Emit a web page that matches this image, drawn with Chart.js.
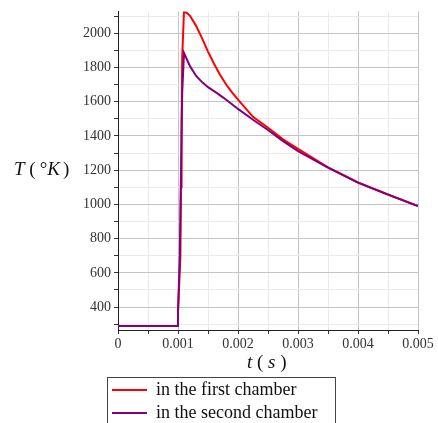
<!DOCTYPE html>
<html>
<head>
<meta charset="utf-8">
<script src="https://cdn.jsdelivr.net/npm/chart.js@4/dist/chart.umd.min.js"></script>
<style>
  body { margin: 0; background: #fff; }
  #wrap { position: relative; width: 438px; height: 423px; overflow: hidden; font-family: "Liberation Serif", "DejaVu Serif", serif; }
  #chart { position: absolute; left: 0; top: 0; }
  .ytitle { position: absolute; left: 14px; top: 158px; font-size: 19px; color: #111; white-space: pre; }
  .xtitle { position: absolute; left: 247px; top: 351px; font-size: 19px; color: #111; white-space: pre; }
  #legend { position: absolute; left: 107px; top: 377px; width: 229px; height: 60px; border: 1px solid #444; box-sizing: border-box; }
  .row { position: absolute; left: 4px; height: 22px; font-size: 18px; color: #111; white-space: nowrap; }
  .row span.ln { display: inline-block; width: 35px; height: 2px; vertical-align: middle; margin-right: 9px; position: relative; top: -1px; }
</style>
</head>
<body>
<div id="wrap">
  <canvas id="chart" width="438" height="370"></canvas>
  <div class="ytitle"><i>T</i> (<span style="margin-left:4px">°</span><i>K</i><span style="margin-left:3px">)</span></div>
  <div class="xtitle"><i>t</i> ( <i>s</i> )</div>
  <div id="legend">
    <div class="row" style="top:1px"><span class="ln" style="background:#ff0000"></span>in the first chamber</div>
    <div class="row" style="top:24px"><span class="ln" style="background:#800080"></span>in the second chamber</div>
  </div>
</div>
<script>
// series
var labelFirst = 'in the first chamber';
var labelSecond = 'in the second chamber';

var tFirst = [0, 0.001, 0.001, 0.00104, 0.00105, 0.00106, 0.00107, 0.0011, 0.00115, 0.0012, 0.0013, 0.0014, 0.0015, 0.0016, 0.0017, 0.0018, 0.0019, 0.002, 0.00225, 0.0025, 0.00275, 0.003, 0.0035, 0.004, 0.0045, 0.005];
var tempFirst = [290, 290, 370, 700, 1100, 1480, 1860, 2130, 2118, 2102, 2045, 1972, 1893, 1822, 1758, 1702, 1655, 1613, 1512, 1448, 1380, 1325, 1217, 1128, 1058, 990];

var tSecond = [0, 0.001, 0.001, 0.00103, 0.00105, 0.00107, 0.0011, 0.0012, 0.0013, 0.0014, 0.0015, 0.00165, 0.00176, 0.0019, 0.002, 0.00225, 0.0025, 0.00275, 0.003, 0.0035, 0.004, 0.0045, 0.005];
var tempSecond = [290, 290, 370, 700, 1200, 1650, 1885, 1808, 1752, 1715, 1685, 1650, 1623, 1585, 1558, 1495, 1435, 1370, 1312, 1215, 1127, 1057, 990];

var xTicks = [0, 0.0005, 0.001, 0.0015, 0.002, 0.0025, 0.003, 0.0035, 0.004, 0.0045, 0.005];
var yTicks = [300, 400, 500, 600, 700, 800, 900, 1000, 1100, 1200, 1300, 1400, 1500, 1600, 1700, 1800, 1900, 2000, 2100];

var toPoints = function(xs, ys){
    return xs.map(function(x, i){ return {x: x, y: ys[i]}; });
};

var isMajorX = function(v){ return Math.round(v * 2000) % 2 === 0; };
var isMajorY = function(v){ return Math.round(v) % 200 === 0; };

var ctx = document.getElementById('chart').getContext('2d');
var chart = new Chart(ctx, {
    type: 'line',
    data: {
        datasets: [{
            label: labelFirst,
            data: toPoints(tFirst, tempFirst),
            borderColor: '#ff0000',
            borderWidth: 2,
            pointRadius: 0,
            tension: 0,
            order: 2
        }, {
            label: labelSecond,
            data: toPoints(tSecond, tempSecond),
            borderColor: '#800080',
            borderWidth: 2,
            pointRadius: 0,
            tension: 0,
            order: 1
        }]
    },
    options: {
        responsive: false,
        animation: false,
        layout: { padding: { top: 10, right: 20, left: 0, bottom: 0 } },
        plugins: { legend: { display: false }, tooltip: { enabled: false } },
        scales: {
            x: {
                type: 'linear',
                min: 0,
                max: 0.005,
                afterBuildTicks: function(scale){ scale.ticks = xTicks.map(function(v){ return {value: v}; }); },
                afterFit: function(scale){ scale.height = 40; },
                border: { color: '#222', width: 1 },
                grid: {
                    color: function(c){ return isMajorX(c.tick.value) ? '#c4c4c4' : '#ebebeb'; },
                    tickColor: '#333',
                    tickLength: 4
                },
                ticks: {
                    autoSkip: false,
                    maxRotation: 0,
                    color: '#333',
                    padding: 2,
                    font: { family: '"Liberation Serif", serif', size: 14 },
                    callback: function(v){
                        if (!isMajorX(v)) return '';
                        return v === 0 ? '0' : v.toFixed(3);
                    }
                }
            },
            y: {
                min: 266,
                max: 2128,
                afterBuildTicks: function(scale){ scale.ticks = yTicks.map(function(v){ return {value: v}; }); },
                afterFit: function(scale){ scale.width = 118; },
                border: { color: '#222', width: 1 },
                grid: {
                    color: function(c){ return isMajorY(c.tick.value) ? '#c4c4c4' : '#ebebeb'; },
                    tickColor: '#333',
                    tickLength: 4
                },
                ticks: {
                    autoSkip: false,
                    color: '#333',
                    padding: 3,
                    font: { family: '"Liberation Serif", serif', size: 14 },
                    callback: function(v){ return isMajorY(v) ? String(v) : ''; }
                }
            }
        }
    }
});
</script>
</body>
</html>
